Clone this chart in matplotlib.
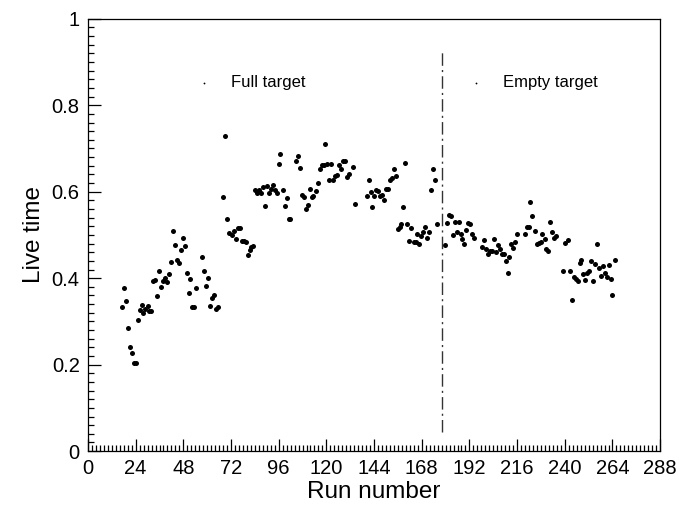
import matplotlib
matplotlib.use("Agg")
import matplotlib.pyplot as plt
from matplotlib.ticker import MultipleLocator

plt.rcParams['font.family'] = ['Liberation Sans', 'DejaVu Sans']

run = [17.1, 18.1, 19.1, 20.1, 21.2, 22.2, 23.2, 24.0, 25.0, 26.0, 27.0, 27.9, 28.9, 30.1, 30.9, 31.9,
       32.9, 33.8, 34.9, 35.8, 36.8, 37.8, 38.8, 39.8, 40.8, 41.7, 42.7, 43.7, 44.7, 45.7, 46.7, 47.7,
       48.7, 49.7, 50.6, 51.6, 52.6, 53.6, 54.6, 57.5, 58.5, 59.5, 60.5, 61.5, 62.5, 63.5, 64.5, 65.5,
       68.2, 69.2, 70.2, 71.2, 72.3, 73.3, 74.3, 75.3, 76.3, 77.3, 78.3, 79.3, 80.3, 81.3, 82.3, 83.0,
       84.2, 85.2, 86.2, 87.0, 88.0, 89.1, 90.1, 91.1, 92.1, 93.1, 94.1, 95.1, 96.0, 96.8, 98.0, 99.0,
       100.0, 101.0, 101.8, 104.8, 105.9, 106.7, 107.9, 108.9, 109.9, 110.6, 111.6, 112.6, 113.4, 114.6,
       115.6, 116.6, 117.7, 118.7, 119.5, 120.3, 121.5, 122.3, 123.5, 124.5, 125.4, 126.4, 127.4, 128.4,
       129.3, 130.3, 131.3, 133.4, 134.4, 140.2, 141.2, 142.2, 143.2, 144.2, 145.2, 146.2, 147.2, 148.1,
       149.1, 150.1, 151.1, 152.1, 152.9, 153.9, 154.9, 155.8, 156.8, 157.8, 158.8, 159.8, 160.8, 161.8,
       162.8, 163.9, 164.9, 165.7, 166.7, 167.7, 168.6, 169.6, 170.6, 171.6, 172.6, 173.6, 174.6, 175.6,
       179.5, 180.5, 181.5, 182.5, 183.5, 184.5, 185.5, 186.5, 187.5, 188.5, 189.4, 190.4, 191.4, 192.4,
       193.4, 194.5, 198.1, 199.1, 200.1, 201.1, 202.2, 203.2, 204.2, 205.2, 206.2, 207.2, 208.2, 209.2,
       210.2, 211.2, 212.1, 213.0, 214.0, 215.0, 216.0, 220.0, 221.0, 222.0, 222.5, 223.5, 224.9, 225.9,
       226.9, 227.9, 228.7, 229.8, 230.6, 231.6, 232.6, 233.6, 234.6, 235.6, 239.3, 240.3, 241.4, 242.5,
       243.5, 244.5, 245.4, 246.4, 247.4, 248.4, 249.3, 250.3, 251.3, 252.3, 253.3, 254.3, 255.3, 256.3,
       257.1, 258.1, 259.1, 260.2, 261.2, 262.2, 263.2, 264.0, 265.1]

live_time = [0.333, 0.378, 0.347, 0.284, 0.241, 0.226, 0.203, 0.203, 0.303, 0.326, 0.339, 0.319, 0.328, 0.336, 0.324, 0.323,
             0.394, 0.395, 0.358, 0.416, 0.379, 0.393, 0.400, 0.392, 0.410, 0.438, 0.508, 0.477, 0.441, 0.435, 0.465, 0.494,
             0.474, 0.413, 0.366, 0.397, 0.333, 0.333, 0.378, 0.448, 0.416, 0.381, 0.400, 0.336, 0.353, 0.360, 0.329, 0.333,
             0.588, 0.730, 0.538, 0.505, 0.501, 0.509, 0.490, 0.515, 0.517, 0.487, 0.486, 0.483, 0.453, 0.466, 0.473, 0.474,
             0.603, 0.597, 0.603, 0.598, 0.610, 0.567, 0.613, 0.598, 0.607, 0.615, 0.603, 0.598, 0.664, 0.688, 0.605, 0.567,
             0.585, 0.536, 0.538, 0.672, 0.682, 0.656, 0.593, 0.587, 0.561, 0.569, 0.607, 0.587, 0.591, 0.602,
             0.621, 0.653, 0.662, 0.662, 0.711, 0.664, 0.628, 0.664, 0.626, 0.637, 0.639, 0.662, 0.653, 0.671,
             0.672, 0.635, 0.640, 0.657, 0.572, 0.589, 0.627, 0.600, 0.564, 0.589, 0.604, 0.602, 0.591, 0.592,
             0.582, 0.607, 0.606, 0.628, 0.632, 0.653, 0.637, 0.514, 0.519, 0.525, 0.564, 0.667, 0.525, 0.485,
             0.515, 0.483, 0.483, 0.502, 0.478, 0.498, 0.507, 0.518, 0.494, 0.507, 0.603, 0.653, 0.627, 0.525,
             0.476, 0.527, 0.547, 0.544, 0.500, 0.530, 0.506, 0.530, 0.502, 0.490, 0.478, 0.512, 0.528, 0.525,
             0.502, 0.492, 0.473, 0.488, 0.468, 0.457, 0.463, 0.464, 0.490, 0.460, 0.476, 0.467, 0.455, 0.455,
             0.440, 0.413, 0.449, 0.479, 0.469, 0.483, 0.502, 0.503, 0.518, 0.518, 0.577, 0.543, 0.508, 0.479,
             0.481, 0.484, 0.503, 0.490, 0.468, 0.463, 0.530, 0.507, 0.492, 0.498, 0.416, 0.482, 0.488, 0.416,
             0.350, 0.402, 0.397, 0.393, 0.435, 0.443, 0.409, 0.395, 0.413, 0.416, 0.440, 0.393, 0.433, 0.480,
             0.423, 0.404, 0.428, 0.413, 0.403, 0.430, 0.397, 0.360, 0.443]

boundary_run = 178
labels = ["Full target", "Empty target"]
label_runs = [58.3, 195.5]
label_y = 0.852

x_ticks = list(range(0, 289, 24))
y_ticks = [0, 0.2, 0.4, 0.6, 0.8, 1]
y_ticklabels = ["0", "0.2", "0.4", "0.6", "0.8", "1"]

fig = plt.figure(figsize=(6.82, 5.08), dpi=100)
ax = fig.add_axes([0.129, 0.112, 0.839, 0.851])

ax.plot(run, live_time, 'o', color='black', ms=3.6, mec='black', mew=0)

ax.plot([boundary_run, boundary_run], [0.045, 0.93], color='#333333', lw=1.0,
        linestyle=(0, (9, 3, 1.5, 3)))

for lr, lab in zip(label_runs, labels):
    ax.plot([lr], [label_y], 'o', color='black', ms=1.3, mew=0)
    ax.text(lr + 13.5, label_y, lab, fontsize=12, va='center', ha='left')

ax.set_xlim(0, 288)
ax.set_ylim(0, 1)
ax.set_xticks(x_ticks)
ax.set_yticks(y_ticks)
ax.set_yticklabels(y_ticklabels)
ax.xaxis.set_minor_locator(MultipleLocator(2))
ax.yaxis.set_minor_locator(MultipleLocator(0.02))
ax.tick_params(which='both', direction='in', top=False, right=False, labelsize=14.5, width=0.9)
ax.tick_params(which='major', length=9, pad=6)
ax.tick_params(which='minor', length=4.5)
for s in ax.spines.values():
    s.set_linewidth(0.9)

ax.set_xlabel("Run number", fontsize=17.5, labelpad=2)
ax.set_ylabel("Live time", fontsize=17.5, labelpad=5)

fig.savefig("out.png", dpi=100)
